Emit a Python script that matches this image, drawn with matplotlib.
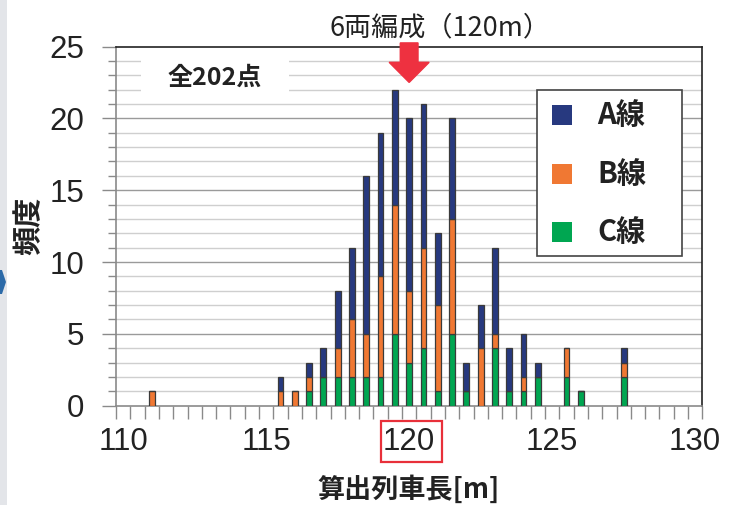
import numpy as np
import matplotlib
matplotlib.use('Agg')
import matplotlib.pyplot as plt
import matplotlib.patches as mpatches
from matplotlib import font_manager

# 算出列車長 [m] と各線の頻度
lengths = [111.0, 115.5, 116.0, 116.5, 117.0, 117.5, 118.0, 118.5, 119.0, 119.5,
           120.0, 120.5, 121.0, 121.5, 122.0, 122.5, 123.0, 123.5, 124.0, 124.5,
           125.5, 126.0, 127.5]
line_a = [0, 1, 0, 1, 2, 4, 5, 11, 10, 8, 12, 10, 5, 7, 2, 3, 6, 3, 3, 1, 0, 0, 1]
line_b = [1, 1, 1, 1, 0, 2, 4, 3, 7, 9, 5, 7, 6, 8, 0, 4, 1, 0, 1, 0, 2, 0, 1]
line_c = [0, 0, 0, 1, 2, 2, 2, 2, 2, 5, 3, 4, 1, 5, 1, 0, 4, 1, 1, 2, 2, 1, 2]

series_names = ['A線', 'B線', 'C線']
series_colors = ['#27397f', '#f07833', '#00a651']
x_ticks = [110, 115, 120, 125, 130]
y_ticks = [0, 5, 10, 15, 20, 25]

W, H = 741, 505


def fx(px):
    return px / W


def fy(py):
    return 1 - py / H


names = [f.name for f in font_manager.fontManager.ttflist]
num_font = 'Liberation Sans Narrow' if 'Liberation Sans Narrow' in names else 'Liberation Sans'
jp = ['Noto Sans CJK JP', 'DejaVu Sans']

fig = plt.figure(figsize=(W / 100, H / 100), dpi=100)
ax = fig.add_axes([fx(116), fy(405.7), fx(702.3) - fx(116), fy(46.5) - fy(405.7)])

x = np.array(lengths)
a = np.array(line_a)
b = np.array(line_b)
c = np.array(line_c)

edge = dict(edgecolor='#3a3a3a', linewidth=0.9, width=0.2, zorder=3)
ax.bar(x, c, color=series_colors[2], **edge)
ax.bar(x, b, bottom=c, color=series_colors[1], **edge)
ax.bar(x, a, bottom=c + b, color=series_colors[0], **edge)

ax.set_xlim(109.75, 130.25)
ax.set_ylim(0, 25)

# 横グリッド
for v in range(1, 25):
    ax.axhline(v, color='#9a9a9a' if v % 5 == 0 else '#cfcfcf', lw=1, zorder=1)

ax.set_xticks(x_ticks)
ax.set_xticks(np.arange(109.75, 130.3, 0.5), minor=True)
ax.set_yticks(y_ticks)
ax.set_yticks(range(0, 26), minor=True)
ax.tick_params(axis='x', which='major', length=0, pad=15, labelsize=22.5)
ax.tick_params(axis='x', which='minor', length=9, color='#8a8a8a', width=1)
ax.tick_params(axis='y', which='major', length=10, pad=13, labelsize=22.5, color='#8a8a8a', width=1)
ax.tick_params(axis='y', which='minor', length=6, color='#8a8a8a', width=1)
for lab in ax.get_xticklabels() + ax.get_yticklabels():
    lab.set_fontfamily(num_font)
    lab.set_color('#222222')

ax.spines['left'].set_color('#8a8a8a')
ax.spines['bottom'].set_color('#8a8a8a')
ax.spines['top'].set_color('#222222')
ax.spines['right'].set_color('#222222')
for s in ax.spines.values():
    s.set_linewidth(1.2)

# 矢印
arrow = mpatches.FancyArrow(120.0, 25.25, 0, -2.75, width=0.62, head_width=1.4,
                            head_length=1.4, length_includes_head=True,
                            color='#ee3140', clip_on=False, zorder=5)
ax.add_patch(arrow)

fig.text(fx(440), fy(28), '6両編成（120m）', family=jp, fontsize=19.5,
         ha='center', va='center', color='#222222')

# 全202点
fig.patches.append(mpatches.Rectangle((fx(141), fy(97)), fx(289) - fx(141), fy(56) - fy(97),
                                      transform=fig.transFigure, facecolor='white',
                                      edgecolor='none', zorder=2))
fig.text(fx(215), fy(78), '全202点', family=jp, fontsize=18, fontweight='bold',
         ha='center', va='center', color='#222222', zorder=3)

# 凡例
fig.patches.append(mpatches.Rectangle((fx(537), fy(256)), fx(682) - fx(537), fy(90) - fy(256),
                                      transform=fig.transFigure, facecolor='white',
                                      edgecolor='#444444', linewidth=1.2, zorder=2))
for i, (name, col) in enumerate(zip(series_names, series_colors)):
    yc = 115 + i * 58.5
    fig.patches.append(mpatches.Rectangle((fx(552), fy(yc + 10)), fx(572) - fx(552), fy(yc - 10) - fy(yc + 10),
                                          transform=fig.transFigure, facecolor=col,
                                          edgecolor='none', zorder=3))
    fig.text(fx(597), fy(yc), name, family=jp, fontsize=21, fontweight='bold',
             ha='left', va='center', color='#222222', zorder=3)

# 軸ラベル
fig.text(fx(409), fy(490), '算出列車長[m]', family=jp, fontsize=19.5, fontweight='bold',
         ha='center', va='center', color='#222222')
fig.text(fx(28), fy(226), '頻度', family=jp, fontsize=21, fontweight='bold',
         ha='center', va='center', rotation=90, color='#222222')

# 120 の赤枠
fig.patches.append(mpatches.Rectangle((fx(381), fy(462)), fx(442) - fx(381), fy(421) - fy(462),
                                      transform=fig.transFigure, facecolor='none',
                                      edgecolor='#e8303a', linewidth=1.6, zorder=3))

# 左端の飾り
fig.patches.append(mpatches.Rectangle((0, 0), fx(7), 1, transform=fig.transFigure,
                                      facecolor='#e3e5e9', edgecolor='none'))
fig.patches.append(mpatches.Polygon([(fx(0), fy(270)), (fx(2), fy(270)), (fx(6), fy(282)),
                                     (fx(2), fy(294)), (fx(0), fy(294))],
                                    transform=fig.transFigure, facecolor='#2c6aa8',
                                    edgecolor='none'))

fig.savefig('out.png', dpi=100)
